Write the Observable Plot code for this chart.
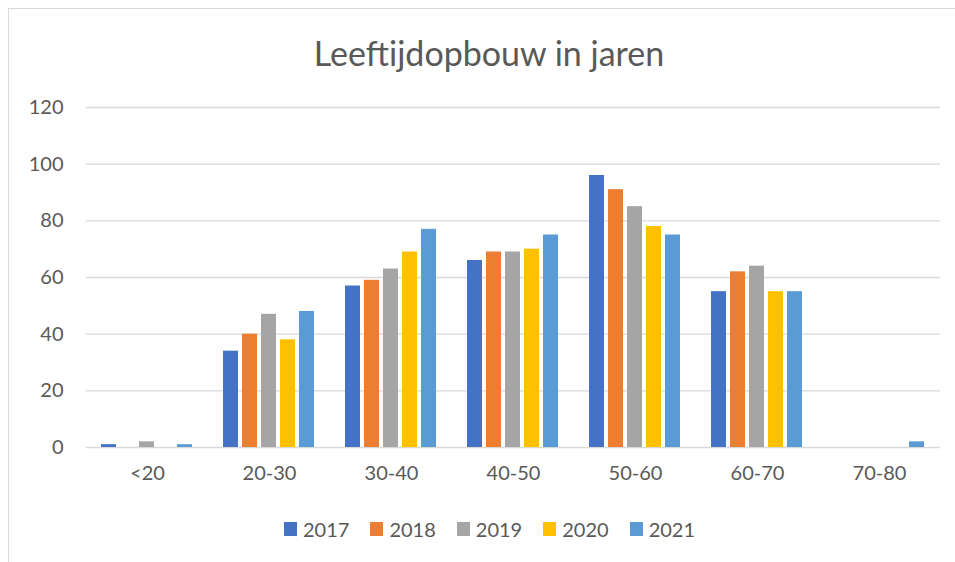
<!DOCTYPE html>
<html>
<head>
<meta charset="utf-8">
<script src="https://cdn.jsdelivr.net/npm/d3@7"></script>
<script src="https://cdn.jsdelivr.net/npm/@observablehq/plot@0.6"></script>
<style>
  html, body { margin: 0; padding: 0; background: #fff; width: 955px; height: 562px; overflow: hidden; }
  body { position: relative; font-family: Lato, "Open Sans", sans-serif; color: #595959; }
  #frame { position: absolute; left: 8px; top: 8px; width: 960px; height: 570px; border-left: 1.5px solid #d9d9d9; border-top: 1.5px solid #d9d9d9; }
  #title { position: absolute; left: 8px; width: 962px; top: 36px; text-align: center; font-size: 34px; line-height: 34px; color: #595959; }
  #chart { position: absolute; left: 0; top: 90px; }
  #legend { position: absolute; top: 517px; left: 284px; display: flex; font-size: 20px; line-height: 24px; color: #595959; }
  .item { display: flex; align-items: center; margin-right: 21px; }
  .sw { width: 13px; height: 14px; margin-right: 6px; }
</style>
</head>
<body>
<div id="frame"></div>
<div id="title">Leeftijdopbouw in jaren</div>
<div id="chart"></div>
<div id="legend"></div>
<script>
const categories = ["<20", "20-30", "30-40", "40-50", "50-60", "60-70", "70-80"];
const years = ["2017", "2018", "2019", "2020", "2021"];
const colors = ["#4472C4", "#ED7D31", "#A5A5A5", "#FFC000", "#5B9BD5"];
const v2017 = [1, 34, 57, 66, 96, 55, 0];
const v2018 = [0, 40, 59, 69, 91, 62, 0];
const v2019 = [2, 47, 63, 69, 85, 64, 0];
const v2020 = [0, 38, 69, 70, 78, 55, 0];
const v2021 = [1, 48, 77, 75, 75, 55, 2];
const yTicks = [0, 20, 40, 60, 80, 100, 120];

const series = [v2017, v2018, v2019, v2020, v2021];
const data = [];
categories.forEach((c, i) => years.forEach((y, j) => data.push({cat: c, year: y, value: series[j][i]})));

const chart = Plot.plot({
  width: 955,
  height: 402,
  marginLeft: 85,
  marginRight: 15,
  marginTop: 17,
  marginBottom: 45,
  style: {fontFamily: "Lato, 'Open Sans', sans-serif", fontSize: "20px", color: "#595959", background: "transparent"},
  fx: {domain: categories, padding: 0, axis: "bottom", label: null, tickSize: 0, tickPadding: 18},
  x: {domain: years, axis: null, paddingInner: 0.21, paddingOuter: 0.81},
  y: {domain: [0, 120], axis: null},
  color: {domain: years, range: colors},
  marks: [
    Plot.ruleY(yTicks, {stroke: "#d9d9d9", strokeWidth: 1.3}),
    Plot.barY(data, {fx: "cat", x: "year", y: "value", fill: "year"}),
    Plot.axisY(yTicks, {tickSize: 0, tickPadding: 23, label: null, fontSize: 20})
  ]
});
document.getElementById("chart").appendChild(chart);

const legend = document.getElementById("legend");
years.forEach((y, i) => {
  const it = document.createElement("div");
  it.className = "item";
  it.innerHTML = `<div class="sw" style="background:${colors[i]}"></div><span>${y}</span>`;
  legend.appendChild(it);
});
</script>
</body>
</html>
